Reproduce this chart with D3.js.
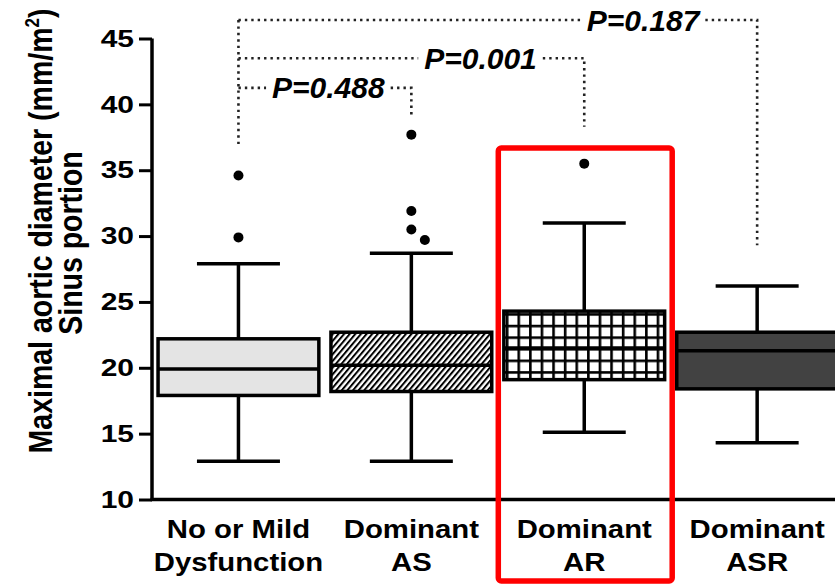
<!DOCTYPE html>
<html>
<head>
<meta charset="utf-8">
<script src="https://cdn.jsdelivr.net/npm/d3@7/dist/d3.min.js"></script>
<style>
  html, body { margin: 0; padding: 0; background: #fff; }
  svg { display: block; font-family: "Liberation Sans", Arial, sans-serif; }
</style>
</head>
<body>
<svg id="chart" width="835" height="586"></svg>
<script>
// ---- data ----
const categories = ["No or Mild Dysfunction", "Dominant AS", "Dominant AR", "Dominant ASR"];
const categoryLines = [["No or Mild", "Dysfunction"], ["Dominant", "AS"], ["Dominant", "AR"], ["Dominant", "ASR"]];
const whiskerLow  = [12.9, 12.9, 15.1, 14.3];
const q1          = [17.9, 18.2, 19.1, 18.4];
const median      = [19.9, 20.2, 21.5, 21.3];
const q3          = [22.2, 22.7, 24.3, 22.7];
const whiskerHigh = [27.9, 28.7, 31.0, 26.2];
const outliers    = [[34.6, 29.9], [37.7, 31.9, 30.5, 29.7], [35.5], []];
const yTicks      = [10, 15, 20, 25, 30, 35, 40, 45];
const fills       = ["light", "hatch", "grid", "dark"];
const highlighted = "Dominant AR";

// pairwise comparisons against the first group (bracket level and drop end in axis units)
const compA      = [0, 0, 0];
const compB      = [1, 2, 3];
const compLabel  = ["P=0.488", "P=0.001", "P=0.187"];
const compLevel  = [41.25, 43.5, 46.4];
const compDropTo = [38.95, 38.3, 29.3];
const compLabelAt = [0.52, 0.70, 0.78];
const firstDropTo = 36.8;

// ---- layout ----
const svg = d3.select("#chart");
const axisX = 152, axisBottomY = 499.5, axisTopY = 38.5;

const y = d3.scaleLinear().domain([10, 45]).range([axisBottomY, axisTopY]);
const x = d3.scaleBand().domain(categories).range([axisX, axisX + 4 * 172.9]).padding(0);
const boxW = x.bandwidth() * 0.93;
const capHalf = 41.5;
const cx = i => x(categories[i]) + x.bandwidth() / 2;

// ---- patterns ----
const defs = svg.append("defs");
const hatch = defs.append("pattern")
  .attr("id", "hatch").attr("patternUnits", "userSpaceOnUse")
  .attr("width", 4.3).attr("height", 10)
  .attr("patternTransform", "rotate(40)");
hatch.append("rect").attr("width", 4.3).attr("height", 10).attr("fill", "#fff");
hatch.append("line").attr("x1", 1).attr("x2", 1).attr("y1", 0).attr("y2", 10)
  .attr("stroke", "#000").attr("stroke-width", 2);

const gridSize = 11.6;
const grid = defs.append("pattern")
  .attr("id", "grid").attr("patternUnits", "userSpaceOnUse")
  .attr("width", gridSize).attr("height", gridSize)
  .attr("x", x(categories[2]) + (x.bandwidth() - boxW) / 2 + 2)
  .attr("y", y(q3[2]) + 2);
grid.append("rect").attr("width", gridSize).attr("height", gridSize).attr("fill", "#fff");
grid.append("rect").attr("x", 0).attr("y", 0).attr("width", 2.6).attr("height", gridSize).attr("fill", "#000");
grid.append("rect").attr("x", 0).attr("y", 0).attr("width", gridSize).attr("height", 2.6).attr("fill", "#000");

const fillFor = f => f === "light" ? "#e4e4e4" : f === "dark" ? "#424242" : f === "hatch" ? "url(#hatch)" : "url(#grid)";

// ---- plot clip (boxes run off the right edge) ----
defs.append("clipPath").attr("id", "plotclip")
  .append("rect").attr("x", 0).attr("y", 0).attr("width", 835).attr("height", 586);

// ---- axes ----
const yAxis = d3.axisLeft(y).tickValues(yTicks).tickSize(13).tickPadding(6).tickFormat(d3.format("d"));
const yg = svg.append("g").attr("transform", `translate(${axisX},0)`).call(yAxis);
yg.select(".domain").attr("stroke", "#000").attr("stroke-width", 3.5)
  .attr("d", `M0,${axisTopY}V${axisBottomY}`);
yg.selectAll(".tick line").attr("stroke", "#000").attr("stroke-width", 3);
const tickStretch = 1.25;
yg.selectAll(".tick text")
  .attr("x", -18 / tickStretch)
  .attr("transform", `scale(${tickStretch},1)`)
  .attr("fill", "#000")
  .style("font-size", "24px").style("font-weight", "bold");

const xAxis = d3.axisBottom(x).tickSize(0).tickFormat("");
const xg = svg.append("g").attr("transform", `translate(0,${axisBottomY})`).call(xAxis);
xg.select(".domain").attr("stroke", "#000").attr("stroke-width", 3.5)
  .attr("d", `M${axisX - 1.5},0H835`);

// category labels, two lines each
const labelStretch = 1.15;
categories.forEach((c, i) => {
  categoryLines[i].forEach((line, k) => {
    svg.append("text")
      .attr("transform", `translate(${cx(i)},${538 + k * 33}) scale(${labelStretch},1)`)
      .attr("text-anchor", "middle")
      .style("font-size", "25.5px").style("font-weight", "bold")
      .attr("fill", "#000")
      .text(line);
  });
});

// y-axis title (glyphs widened across the rotated baseline)
const titleStretch = 1.18;
const t1 = svg.append("text")
  .attr("transform", `translate(52,231) scale(${titleStretch},1) rotate(-90)`)
  .attr("text-anchor", "middle")
  .style("font-size", "28.5px").style("font-weight", "bold");
t1.append("tspan").text("Maximal aortic diameter (mm/m");
t1.append("tspan").attr("dy", -11).style("font-size", "17px").text("2");
t1.append("tspan").attr("dy", 11).text(")");
svg.append("text")
  .attr("transform", `translate(82,243) scale(${titleStretch},1) rotate(-90)`)
  .attr("text-anchor", "middle")
  .style("font-size", "28.5px").style("font-weight", "bold")
  .text("Sinus portion");

// ---- box plots ----
const plot = svg.append("g").attr("clip-path", "url(#plotclip)");
const sw = 3.5;

categories.forEach((c, i) => {
  const g = plot.append("g");
  const xc = cx(i);
  // whisker stems
  g.append("line").attr("x1", xc).attr("x2", xc)
    .attr("y1", y(whiskerHigh[i])).attr("y2", y(q3[i]))
    .attr("stroke", "#000").attr("stroke-width", sw);
  g.append("line").attr("x1", xc).attr("x2", xc)
    .attr("y1", y(q1[i])).attr("y2", y(whiskerLow[i]))
    .attr("stroke", "#000").attr("stroke-width", sw);
  // caps
  [whiskerHigh[i], whiskerLow[i]].forEach(v => {
    g.append("line").attr("x1", xc - capHalf).attr("x2", xc + capHalf)
      .attr("y1", y(v)).attr("y2", y(v))
      .attr("stroke", "#000").attr("stroke-width", sw);
  });
  // box
  g.append("rect")
    .attr("x", xc - boxW / 2).attr("y", y(q3[i]))
    .attr("width", boxW).attr("height", y(q1[i]) - y(q3[i]))
    .attr("fill", fillFor(fills[i]))
    .attr("stroke", "#000").attr("stroke-width", sw);
  // median
  g.append("line").attr("x1", xc - boxW / 2).attr("x2", xc + boxW / 2)
    .attr("y1", y(median[i])).attr("y2", y(median[i]))
    .attr("stroke", "#000").attr("stroke-width", sw);
  // outliers, nudged sideways when they would overlap
  const placed = [];
  outliers[i].forEach(v => {
    let px = xc;
    const py = y(v);
    while (placed.some(p => Math.abs(p[0] - px) < 10 && Math.abs(p[1] - py) < 12)) px += 13.5;
    placed.push([px, py]);
    g.append("circle").attr("cx", px).attr("cy", py).attr("r", 5).attr("fill", "#000");
  });
});

// ---- significance brackets ----
const dotted = sel => sel.attr("stroke", "#222").attr("stroke-width", 2.6)
  .attr("stroke-dasharray", "2.4,4").attr("fill", "none");

const xa = cx(0);
const topLevel = d3.max(compLevel);
dotted(svg.append("line").attr("x1", xa).attr("x2", xa)
  .attr("y1", y(topLevel)).attr("y2", y(firstDropTo)));

compLabel.forEach((lab, k) => {
  const x1 = cx(compA[k]), x2 = cx(compB[k]);
  const ly = y(compLevel[k]);
  const tx = x1 + (x2 - x1) * compLabelAt[k];
  const txt = svg.append("text")
    .attr("x", tx).attr("y", ly + 10.5)
    .attr("text-anchor", "middle")
    .style("font-size", "30px").style("font-weight", "bold").style("font-style", "italic")
    .attr("fill", "#000")
    .text(lab);
  const w = txt.node().getComputedTextLength();
  const gap = 6;
  dotted(svg.append("line").attr("x1", x1).attr("x2", tx - w / 2 - gap).attr("y1", ly).attr("y2", ly));
  dotted(svg.append("path")
    .attr("d", `M${tx + w / 2 + gap},${ly}H${x2}V${y(compDropTo[k])}`));
});

// ---- highlight frame ----
const hi = categories.indexOf(highlighted);
svg.append("rect")
  .attr("x", x(categories[hi]) + 0.5)
  .attr("y", 148)
  .attr("width", x.bandwidth() + 1)
  .attr("height", 433)
  .attr("rx", 3)
  .attr("fill", "none")
  .attr("stroke", "#ff0000")
  .attr("stroke-width", 5.5);
</script>
</body>
</html>
